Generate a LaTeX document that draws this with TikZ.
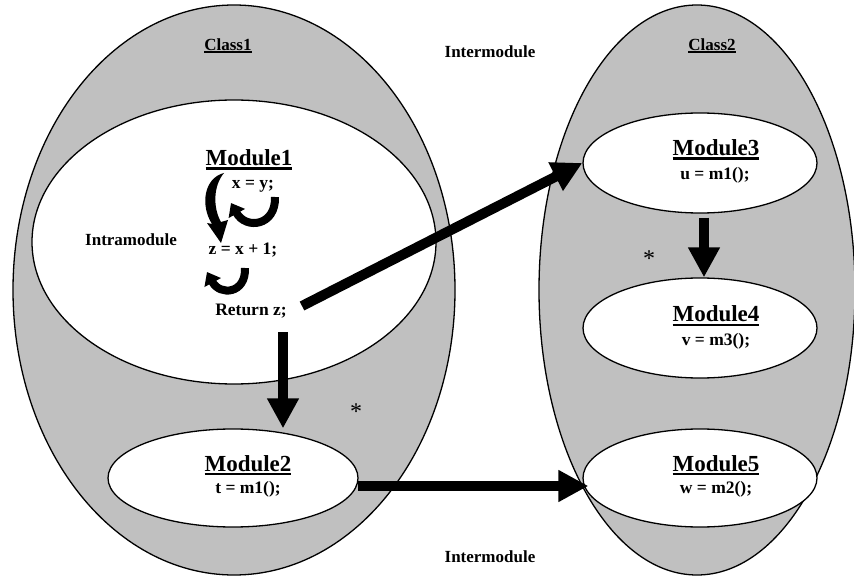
\documentclass[tikz,border=0pt]{standalone}
\usepackage{fontspec}
\setmainfont{Liberation Serif}
\usetikzlibrary{shapes.geometric,arrows.meta,calc}
\definecolor{cgray}{RGB}{192,192,192}
\newcommand\myul[3]{\setbox0\hbox{#3}\rlap{\rule[-#1]{\wd0}{#2}}\box0}
\begin{document}
\begin{tikzpicture}[x=1pt,y=-1pt,
  oval/.style={ellipse, draw=black, line width=1.3pt, inner sep=0pt},
  lbl/.style={font=\fontsize{17}{17}\selectfont\bfseries, inner sep=0pt, anchor=base},
  mname/.style={font=\fontsize{23}{23}\selectfont\bfseries, inner sep=0pt, anchor=base},
  code/.style={font=\fontsize{17.5}{17.5}\selectfont\bfseries, inner sep=0pt, anchor=base},
  star/.style={font=\fontsize{24}{24}\selectfont, inner sep=0pt},
  bigarrow/.style={line width=10pt, -{Triangle[width=30pt,length=30pt]}},
  curlarrow/.style={line width=8pt, -{Triangle[width=18pt,length=12pt]}},
]
\useasboundingbox (0,0) rectangle (854,577);
% containers
\node[oval, fill=cgray, minimum width=442pt, minimum height=570pt] (class1) at (234,290) {};
\node[oval, fill=cgray, minimum width=316pt, minimum height=570pt] (class2) at (697,290) {};
\node[oval, fill=white, minimum width=404pt, minimum height=284pt] (mod1) at (234,242) {};
\node[oval, fill=white, minimum width=250pt, minimum height=98pt] (mod2) at (233,478) {};
\node[oval, fill=white, minimum width=234pt, minimum height=100pt] (mod3) at (700,163) {};
\node[oval, fill=white, minimum width=234pt, minimum height=100pt] (mod4) at (700,328) {};
\node[oval, fill=white, minimum width=234pt, minimum height=98pt] (mod5) at (700,478) {};
% labels
\node[lbl] (c1) at (228,51) {\myul{2.5pt}{2pt}{Class1}};
\node[lbl] (c2) at (712,51) {\myul{2.5pt}{2pt}{Class2}};
\node[lbl] (im1) at (490,58) {Intermodule};
\node[lbl] (im2) at (490,562) {Intermodule};
\node[lbl, anchor=base west] (intra) at (85,246) {Intramodule};
\node[mname] (m1name) at (249,166) {\myul{4pt}{2.5pt}{Module1}};
\node[code] (xy) at (253,189) {x = y;};
\node[code] (zx) at (243,255) {z = x + 1;};
\node[code] (ret) at (251,316) {Return z;};
\node[mname] (m2name) at (248,471) {\myul{4pt}{2.5pt}{Module2}};
\node[code] (m2code) at (248,493) {t = m1();};
\node[mname] (m3name) at (716,156) {\myul{4pt}{2.5pt}{Module3}};
\node[code] (m3code) at (715,180) {u = m1();};
\node[mname] (m4name) at (716,322) {\myul{4pt}{2.5pt}{Module4}};
\node[code] (m4code) at (716,345) {v = m3();};
\node[mname] (m5name) at (716,471) {\myul{4pt}{2.5pt}{Module5}};
\node[code] (m5code) at (716,493) {w = m2();};
\node[star] (ast1) at (356,412) {*};
\node[star] (ast2) at (649,259) {*};
% intramodule curls
\fill (224,173) .. controls (204,178) and (200,205) .. (212,224)
  -- (207,223) -- (221,243) -- (228,220) -- (221,222)
  .. controls (213,208) and (213,186) .. (224,173) -- cycle;
\draw[curlarrow] (275,197) .. controls (276,226) and (246,230) .. (231,203);
\draw[curlarrow] (245,268) .. controls (246,294) and (220,296) .. (207,272);
% big arrows
\coordinate (a1s) at (302,306);
\draw[bigarrow] (a1s) -- (mod3.west);
\coordinate (a2s) at (283,332);
\draw[bigarrow] (a2s) -- (a2s |- mod2.north);
\draw[bigarrow, shorten <=4pt] ([xshift=4pt]mod3.south) -- ([xshift=4pt]mod4.north);
\coordinate (a4s) at (358,486);
\draw[bigarrow, shorten >=-6pt] (a4s) -- (a4s -| mod5.west);
\end{tikzpicture}
\end{document}
